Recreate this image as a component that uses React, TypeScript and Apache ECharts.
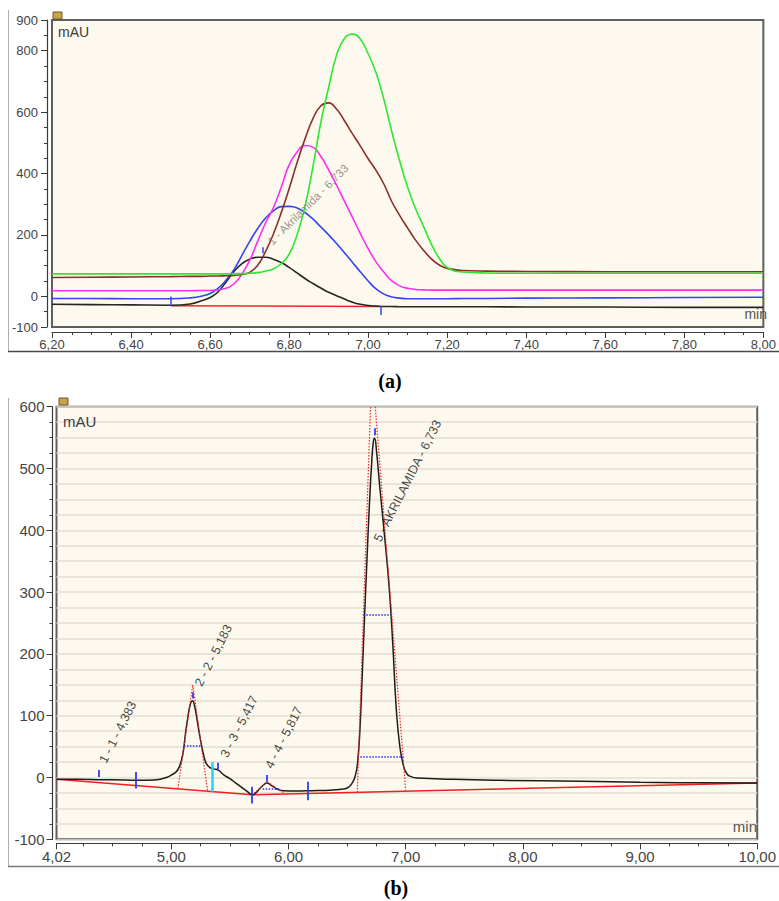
import React, { useEffect, useRef } from 'react';
import * as echarts from 'echarts';

// ---------------- Panel (a): overlay of five chromatograms ----------------
const timesA = [6.20, 6.30, 6.40, 6.50, 6.55, 6.58, 6.60, 6.62, 6.64, 6.66, 6.68, 6.70, 6.72, 6.74, 6.76, 6.78, 6.80, 6.82, 6.84, 6.86, 6.88, 6.90, 6.92, 6.94, 6.96, 6.98, 7.00, 7.02, 7.04, 7.06, 7.08, 7.10, 7.12, 7.14, 7.16, 7.18, 7.20, 7.24, 7.30, 7.40, 7.60, 7.80, 8.00];
const blackA = [-26, -27, -28, -29, -25, -14, -4, 14, 46, 80, 106, 121, 127, 127, 121, 110, 94, 76, 58, 42, 27, 13, 2, -9, -19, -26, -30, -32, -33, -33, -34, -34, -34, -34, -34, -34, -34, -34, -34, -35, -35, -36, -36];
const blueA = [-7, -7, -8, -8, -5, 1, 9, 26, 52, 86, 132, 178, 220, 254, 278, 292, 293, 288, 273, 252, 226, 200, 172, 142, 111, 80, 50, 24, 7, -2, -6, -8, -8, -8, -8, -8, -8, -7, -7, -6, -5, -4, -3];
const magentaA = [18, 18, 18, 18, 18, 19, 19, 21, 26, 40, 72, 116, 178, 238, 288, 355, 428, 470, 491, 486, 456, 412, 362, 310, 258, 205, 155, 112, 78, 50, 34, 26, 22, 21, 20, 20, 20, 20, 20, 20, 20, 20, 20];
const brownA = [61, 62, 63, 64, 65, 65, 66, 66, 67, 68, 71, 78, 100, 145, 202, 272, 350, 435, 512, 578, 620, 630, 610, 572, 530, 490, 448, 410, 365, 308, 263, 222, 183, 150, 122, 102, 91, 84, 82, 81, 80, 80, 80];
const greenA = [73, 73, 73, 73, 73, 73, 73, 73, 73, 74, 74, 75, 77, 82, 89, 106, 137, 200, 292, 420, 565, 680, 785, 840, 854, 838, 790, 728, 640, 535, 440, 355, 285, 228, 170, 124, 94, 79, 76, 75, 75, 75, 75];
const baselineA = [[6.50, -31], [7.033, -33]];
const markersA = [[6.50, -32, -1], [7.033, -61, -32], [6.733, 140, 160]];
const peakLabelA = ['1 - Akrilamida - 6,733'];
const peakLabelAnchorA = [[6.752, 172]];
const yLabelsA = [-100, 0, 200, 400, 600, 800, 900];

// ---------------- Panel (b): single chromatogram ----------------
const timesB = [4.02, 4.20, 4.38, 4.60, 4.72, 4.85, 4.92, 4.97, 5.00, 5.04, 5.07, 5.10, 5.12, 5.14, 5.16, 5.18, 5.20, 5.22, 5.24, 5.26, 5.28, 5.30, 5.33, 5.36, 5.40, 5.45, 5.50, 5.55, 5.60, 5.65, 5.69, 5.72, 5.76, 5.80, 5.817, 5.84, 5.88, 5.92, 5.96, 6.05, 6.15, 6.25, 6.35, 6.45, 6.50, 6.54, 6.57, 6.59, 6.61, 6.63, 6.65, 6.67, 6.69, 6.71, 6.725, 6.735, 6.75, 6.78, 6.82, 6.86, 6.89, 6.92, 6.95, 6.98, 7.01, 7.05, 7.10, 7.40, 7.80, 8.50, 9.00, 9.50, 10.00];
const signalB = [-3, -3, -3.5, -4, -4.5, -4, -2, 1, 4, 9, 18, 40, 70, 96, 117, 124, 114, 93, 70, 50, 33, 22, 16, 14, 12, 4, -2, -9, -16, -23, -28, -25, -17, -10, -9, -11, -16, -20, -21.5, -22, -21.5, -21, -20.5, -19, -17, -10, 3, 25, 80, 170, 265, 355, 440, 510, 545, 549, 530, 468, 390, 305, 215, 110, 50, 20, 6, 1, -1, -3, -4.5, -6, -7.5, -8.5, -8.7];
const baselineB = [[4.02, -3], [5.69, -28], [10.0, -9]];
const tangentsB = [[5.056, -18, 5.183, 150], [5.183, 150, 5.31, -22], [5.706, -26, 5.817, -7], [5.817, -7, 5.96, -25], [6.587, -24, 6.70, 600], [6.74, 600, 7.0, -21]];
const halfWidthsB = [[5.107, 5.262, 52], [5.78, 5.92, -19], [6.638, 6.864, 263], [6.587, 6.982, 33]];
const markersB = [[4.383, 1, 12], [4.70, -18, 9], [5.183, 128, 138], [5.40, 13, 24], [5.69, -42, -15], [5.817, -7, 4], [6.16, -37, -7], [6.733, 554, 565]];
const cyanMarkersB = [[5.35, -23, 25]];
const peakLabelsB = ['1 - 1 - 4,383', '2 - 2 - 5,183', '3 - 3 - 5,417', '4 - 4 - 5,817', '5 - AKRILAMIDA - 6,733'];
const peakLabelAnchorsB = [[4.418, 24], [5.234, 148], [5.454, 33], [5.834, 15], [6.76, 382]];
const xLabelsB = [4.02, 5, 6, 7, 8, 9, 10];
const xMinorTicksB = [4.25, 4.5, 4.75, 5.25, 5.5, 5.75, 6.25, 6.5, 6.75, 7.25, 7.5, 7.75, 8.25, 8.5, 8.75, 9.25, 9.5, 9.75];

const FONT = '"Liberation Sans", Arial, Helvetica, sans-serif';
const AX = '#3a3a3a';
const fmt = (v: number) => v.toFixed(2).replace('.', ',');

const pairs = (ts: number[], vs: number[]) => ts.map((t, i) => [t, vs[i]]);

function traceSeries(name: string, data: number[][], color: string, xi: number, yi: number, width = 1.6) {
  return {
    type: 'line', name, data, xAxisIndex: xi, yAxisIndex: yi,
    showSymbol: false, symbol: 'none', smooth: 0.5,
    lineStyle: { color, width }, silent: true, z: 3,
  };
}

function segSeries(segs: number[][][], color: string, width: number, type: any, xi: number, yi: number, z = 4) {
  return {
    type: 'lines', coordinateSystem: 'cartesian2d', xAxisIndex: xi, yAxisIndex: yi,
    polyline: false, silent: true, z,
    symbol: ['none', 'none'],
    lineStyle: { color, width, type, opacity: 1 },
    data: segs.map((c) => ({ coords: c })),
  };
}

function labelSeries(names: string[], anchors: number[][], xi: number, yi: number, rotate: number, size: number, color: string) {
  return {
    type: 'scatter', xAxisIndex: xi, yAxisIndex: yi, symbolSize: 1, silent: true, z: 6,
    itemStyle: { color: 'rgba(0,0,0,0)' },
    data: names.map((n, i) => ({ name: n, value: anchors[i] })),
    label: {
      show: true, formatter: '{b}', position: [0, 0], align: 'left', verticalAlign: 'middle',
      rotate, fontSize: size, color, fontFamily: FONT,
    },
  };
}

function buildOption() {
  const xa = (gi: number, min: number, max: number, extra: any) => ({
    type: 'value', gridIndex: gi, min, max, position: 'bottom',
    axisLine: { show: true, onZero: false, lineStyle: { color: AX, width: 1.2 } },
    axisTick: { show: true, lineStyle: { color: AX, width: 1 } },
    splitLine: { show: false },
    ...extra,
  });
  const ya = (gi: number, min: number, max: number, extra: any) => ({
    type: 'value', gridIndex: gi, min, max, position: 'left',
    axisLine: { show: true, onZero: false, lineStyle: { color: AX, width: 1.2 } },
    axisTick: { show: true, lineStyle: { color: AX, width: 1 } },
    splitLine: { show: false },
    ...extra,
  });
  const labA = { fontSize: 13, color: '#444', fontFamily: FONT };
  const labB = { fontSize: 15, color: '#444', fontFamily: FONT };

  return {
    animation: false,
    backgroundColor: '#ffffff',
    grid: [
      { left: 52, top: 20, width: 720, height: 307, show: true, backgroundColor: '#fdf9ee', borderColor: '#5f5f5f', borderWidth: 2 },
      { left: 56.5, top: 406.7, width: 707, height: 432.6, show: true, backgroundColor: '#fdf9ee', borderColor: '#5f5f5f', borderWidth: 2 },
    ],
    xAxis: [
      xa(0, 6.2, 8.0, { interval: 0.2, offset: 5, axisTick: { show: true, length: 6, lineStyle: { color: AX } }, axisLabel: { ...labA, margin: 6, formatter: fmt } }),
      xa(0, 6.2, 8.0, { interval: 0.05, offset: 5, axisLine: { show: false, onZero: false }, axisTick: { show: true, length: 3, lineStyle: { color: AX } }, axisLabel: { show: false } }),
      xa(1, 4.02, 10, { offset: 4, axisTick: { show: true, length: 6, customValues: xLabelsB, lineStyle: { color: AX } }, axisLabel: { ...labB, margin: 6, formatter: fmt, customValues: xLabelsB } }),
      xa(1, 4.02, 10, { offset: 4, axisLine: { show: false, onZero: false }, axisTick: { show: true, length: 3, customValues: xMinorTicksB, lineStyle: { color: AX } }, axisLabel: { show: false } }),
    ],
    yAxis: [
      ya(0, -100, 900, { offset: 5, axisTick: { show: true, length: 6, customValues: yLabelsA, lineStyle: { color: AX } }, axisLabel: { ...labA, margin: 9, customValues: yLabelsA } }),
      ya(0, -100, 900, { interval: 50, offset: 5, axisLine: { show: false, onZero: false }, axisTick: { show: true, length: 3, lineStyle: { color: AX } }, axisLabel: { show: false } }),
      ya(1, -100, 600, { interval: 100, offset: 4, axisTick: { show: true, length: 6, lineStyle: { color: AX } }, axisLabel: { ...labB, margin: 8 } }),
      ya(1, -100, 600, { interval: 25, offset: 4, axisLine: { show: false, onZero: false }, axisTick: { show: true, length: 3, lineStyle: { color: AX } }, axisLabel: { show: false }, splitLine: { show: true, lineStyle: { color: '#e2ded5', width: 1.5 } } }),
    ],
    series: [
      // panel (a)
      segSeries([baselineA], '#e82a2a', 1.5, 'solid', 0, 0, 2),
      traceSeries('black', pairs(timesA, blackA), '#262626', 0, 0),
      traceSeries('blue', pairs(timesA, blueA), '#3346ef', 0, 0),
      traceSeries('magenta', pairs(timesA, magentaA), '#ff2cf5', 0, 0),
      traceSeries('brown', pairs(timesA, brownA), '#8c2e2a', 0, 0),
      traceSeries('green', pairs(timesA, greenA), '#2ee82e', 0, 0),
      segSeries(markersA.map((m) => [[m[0], m[1]], [m[0], m[2]]]), '#3346ef', 1.5, 'solid', 0, 0, 5),
      labelSeries(peakLabelA, peakLabelAnchorA, 0, 0, 45, 11.5, '#7a7a7a'),
      // panel (b)
      segSeries(baselineB.slice(1).map((p, i) => [baselineB[i], p]), '#ee2020', 1.5, 'solid', 2, 2, 2),
      traceSeries('signal', pairs(timesB, signalB), '#1c1c1c', 2, 2, 1.5),
      segSeries(tangentsB.map((s) => [[s[0], s[1]], [s[2], s[3]]]), '#ee2a2a', 1.2, [1.5, 1.5], 2, 2, 4),
      segSeries(halfWidthsB.map((s) => [[s[0], s[2]], [s[1], s[2]]]), '#2a2aff', 1.5, [1.5, 1.5], 2, 2, 4),
      segSeries(markersB.map((m) => [[m[0], m[1]], [m[0], m[2]]]), '#2f3cf0', 1.8, 'solid', 2, 2, 5),
      segSeries(cyanMarkersB.map((m) => [[m[0], m[1]], [m[0], m[2]]]), '#22d4f0', 2.5, 'solid', 2, 2, 5),
      labelSeries(peakLabelsB, peakLabelAnchorsB, 2, 2, 63, 12.5, '#111111'),
    ],
    graphic: [
      // outer panel frames
      { type: 'line', shape: { x1: 8.5, y1: 10, x2: 8.5, y2: 352 }, style: { stroke: '#b0b0b0', lineWidth: 1 }, silent: true },
      { type: 'line', shape: { x1: 8, y1: 351.5, x2: 779, y2: 351.5 }, style: { stroke: '#4a4a4a', lineWidth: 1.5 }, silent: true },
      { type: 'line', shape: { x1: 8.5, y1: 398, x2: 8.5, y2: 867 }, style: { stroke: '#b0b0b0', lineWidth: 1 }, silent: true },
      { type: 'line', shape: { x1: 8, y1: 866.5, x2: 779, y2: 866.5 }, style: { stroke: '#7a7a7a', lineWidth: 1.5 }, silent: true },
      // header icons
      { type: 'rect', shape: { x: 53, y: 12, width: 9, height: 7 }, style: { fill: '#c9a24a', stroke: '#6b5a2a', lineWidth: 1 }, silent: true },
      { type: 'rect', shape: { x: 59, y: 398, width: 9, height: 7 }, style: { fill: '#c9a24a', stroke: '#6b5a2a', lineWidth: 1 }, silent: true },
      // unit texts
      { type: 'text', x: 58, y: 32, style: { text: 'mAU', font: `14px ${FONT}`, fill: '#3c3c3c', align: 'left', verticalAlign: 'middle' }, silent: true, z: 10 },
      { type: 'text', x: 767, y: 314, style: { text: 'min', font: `14px ${FONT}`, fill: '#555', align: 'right', verticalAlign: 'middle' }, silent: true, z: 10 },
      { type: 'text', x: 63, y: 421, style: { text: 'mAU', font: `15px ${FONT}`, fill: '#3c3c3c', align: 'left', verticalAlign: 'middle' }, silent: true, z: 10 },
      { type: 'text', x: 757, y: 826, style: { text: 'min', font: `15px ${FONT}`, fill: '#555', align: 'right', verticalAlign: 'middle' }, silent: true, z: 10 },
      // captions
      { type: 'text', x: 390, y: 381, style: { text: '(a)', font: `bold 20px "Liberation Serif", "Times New Roman", serif`, fill: '#000', align: 'center', verticalAlign: 'middle' }, silent: true, z: 10 },
      { type: 'text', x: 396, y: 888, style: { text: '(b)', font: `bold 20px "Liberation Serif", "Times New Roman", serif`, fill: '#000', align: 'center', verticalAlign: 'middle' }, silent: true, z: 10 },
    ],
  };
}

export default function App() {
  const ref = useRef<HTMLDivElement>(null);
  useEffect(() => {
    if (!ref.current) return;
    const chart = echarts.init(ref.current, null, { renderer: 'svg' });
    chart.setOption(buildOption() as any);
    return () => chart.dispose();
  }, []);
  return (
    <div
      ref={ref}
      style={{ position: 'fixed', left: 0, top: 0, width: 779, height: 901, background: '#ffffff' }}
    />
  );
}
